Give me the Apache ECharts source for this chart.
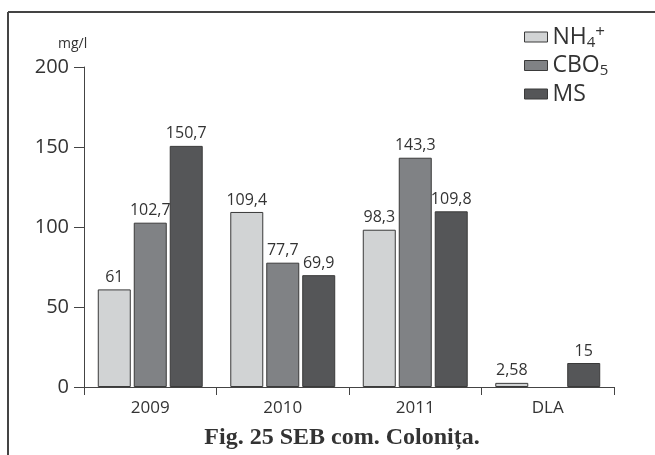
<!DOCTYPE html>
<html>
<head>
<meta charset="utf-8">
<script src="https://cdn.jsdelivr.net/npm/echarts@6/dist/echarts.min.js"></script>
<style>
html,body{margin:0;padding:0;background:#fff;}
#c{width:655px;height:455px;}
</style>
</head>
<body>
<div id="c"></div>
<script>
var categories = ['2009', '2010', '2011', 'DLA'];
var nh4 = [61, 109.4, 98.3, 2.58];
var cbo5 = [102.7, 77.7, 143.3, null];
var ms = [150.7, 69.9, 109.8, 15];
var yTicks = [0, 50, 100, 150, 200];

var FONT = '"Open Sans", sans-serif';
var TXT = '#333333';
var chart = echarts.init(document.getElementById('c'), null, {renderer: 'canvas'});

function lbl(v) {
  return String(v.value).replace('.', ',');
}
function mkSeries(name, data, color) {
  return {
    name: name,
    type: 'bar',
    data: data,
    barWidth: 33,
    barGap: '9%',
    itemStyle: {color: color, borderColor: '#3a3a3a', borderWidth: 1},
    label: {
      show: true, position: 'top', distance: 4,
      fontFamily: FONT, fontSize: 16, color: TXT,
      formatter: lbl
    },
    emphasis: {disabled: true},
    animation: false
  };
}

var legendRich = {
  b: {fontFamily: FONT, fontSize: 23, color: TXT, lineHeight: 26},
  s: {fontFamily: FONT, fontSize: 15, color: TXT, lineHeight: 12, verticalAlign: 'bottom'},
  p: {fontFamily: FONT, fontSize: 17, color: TXT, lineHeight: 12, verticalAlign: 'top'}
};

chart.setOption({
  animation: false,
  grid: {left: 84, right: 41, top: 67, bottom: 68},
  legend: {
    orient: 'vertical',
    left: 519, top: 19,
    itemWidth: 23, itemHeight: 10, itemGap: 4,
    icon: 'rect',
    selectedMode: false,
    itemStyle: {borderColor: '#3a3a3a', borderWidth: 1},
    textStyle: {fontFamily: FONT, fontSize: 23, color: TXT, rich: legendRich},
    formatter: function (name) {
      if (name === 'NH4+') return '{b|NH}{s|4}{p|+}';
      if (name === 'CBO5') return '{b|CBO}{s|5}';
      return '{b|' + name + '}';
    },
    data: ['NH4+', 'CBO5', 'MS']
  },
  xAxis: {
    type: 'category',
    data: categories,
    axisLine: {lineStyle: {color: '#444', width: 1}},
    axisTick: {show: true, length: 8, alignWithLabel: false, lineStyle: {color: '#444'}},
    axisLabel: {fontFamily: FONT, fontSize: 17, color: TXT, margin: 13}
  },
  yAxis: {
    type: 'value',
    min: 0, max: 200, interval: 50,
    splitLine: {show: false},
    axisLine: {show: true, lineStyle: {color: '#444', width: 1}},
    axisTick: {show: true, length: 10, lineStyle: {color: '#444'}},
    axisLabel: {
      fontFamily: FONT, fontSize: 20, color: TXT, margin: 15,
      formatter: function (v) { return yTicks.indexOf(v) >= 0 ? String(v) : ''; }
    }
  },
  graphic: [
    {type: 'line', shape: {x1: 8, y1: 12, x2: 655, y2: 12}, style: {stroke: '#444', lineWidth: 2}, silent: true},
    {type: 'line', shape: {x1: 8, y1: 12, x2: 8, y2: 455}, style: {stroke: '#444', lineWidth: 2}, silent: true},
    {type: 'text', left: 58, top: 37, style: {text: 'mg/l', fontFamily: FONT, fontSize: 14, fill: TXT}, silent: true},
    {type: 'text', x: 342, y: 438, style: {text: 'Fig. 25 SEB com. Colonița.', fontFamily: '"Liberation Serif", serif', fontWeight: 'bold', fontSize: 24, fill: '#333', align: 'center', verticalAlign: 'middle'}, silent: true}
  ],
  series: [
    mkSeries('NH4+', nh4, '#d1d3d4'),
    mkSeries('CBO5', cbo5, '#808285'),
    mkSeries('MS', ms, '#555658')
  ]
});
</script>
</body>
</html>
